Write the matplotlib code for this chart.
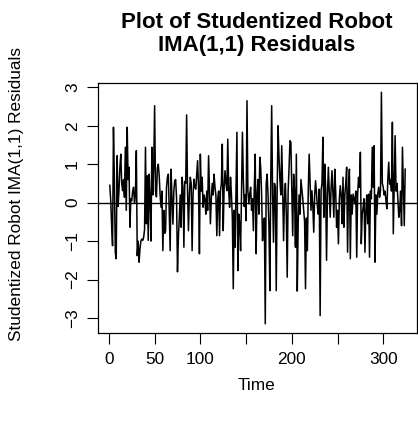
import matplotlib
matplotlib.use("Agg")
import matplotlib.pyplot as plt
import numpy as np

# Studentized residuals of the IMA(1,1) model fitted to the robot series
residuals = [
    0.45, 0.05, -0.6, -1.12, 1.96, 0.6, -1.3, -1.46, 1.22, -0.1,
    0.3, 0.92, 1.26, 0.5, 0.31, 0.6, 0.14, 1.44, -0.2, 1.96,
    0.6, 0.92, -0.64, 0.1, 0.05, 0.3, 0.4, 0.0, 0.2, 1.35,
    -1.38, -1.0, -1.55, -1.2, -1.0, -0.95, -0.98, -0.9, -0.7, 1.44,
    -0.55, 0.7, -0.98, 0.74, 0.1, -1.0, 1.44, 0.2, 0.9, 2.52,
    0.3, 0.15, 0.9, 1.0, 0.7, 0.2, -0.12, 0.3, -1.25, -0.2,
    -0.8, -0.73, 0.4, 0.66, 0.74, -0.3, -1.25, 0.87, 0.1, -0.56,
    0.3, 0.57, 0.6, 0.1, -1.8, -0.9, -0.4, 0.2, -0.64, 0.66,
    0.4, -1.16, 0.55, 0.5, 2.28, 0.3, -0.73, 0.2, 0.66, 0.5,
    -1.25, 0.2, 0.61, 0.4, 0.35, 0.7, 1.09, 0.4, -1.33, 1.26,
    0.3, 0.66, -0.12, 0.2, 0.1, -0.3, 0.3, -0.2, 1.22, 0.3,
    -0.55, 0.1, 0.5, 0.2, 0.74, 0.4, 0.2, -0.86, 0.1, 0.3,
    -0.86, 0.3, 0.5, 1.52, -0.73, 0.4, 0.83, 0.5, 0.31, 1.65,
    0.3, -0.12, 0.66, 0.2, -0.4, -2.24, -0.2, -1.16, 0.4, 1.83,
    -1.77, -0.3, -0.55, -1.25, 0.2, 1.83, 0.6, -0.1, 0.2, -0.47,
    2.65, 0.3, -0.03, 0.22, 0.4, -0.2, 0.1, -0.73, 0.4, 1.26,
    -1.33, 0.2, 0.6, -0.3, 1.18, 0.92, 0.2, -0.99, -0.5, -0.4,
    -3.15, 0.48, 0.74, 0.2, -0.6, -2.29, 0.6, 2.52, 0.2, -1.03,
    0.5, 0.4, -2.29, 0.3, 2.0, 1.2, 0.6, 0.2, 1.48, 0.4,
    -0.99, 0.1, 0.5, -0.3, -1.94, 0.3, 0.9, 1.61, 1.57, 0.3,
    -0.86, 0.74, 0.3, -1.16, 1.26, -2.3, -0.5, 0.2, -0.3, 0.6,
    0.35, 0.1, -0.2, -0.5, -2.24, -0.4, -1.25, 0.3, 1.26, 0.5,
    -0.2, 0.31, -0.1, -0.77, 0.2, 0.57, 0.22, -0.1, -0.3, 0.35,
    -2.94, 0.31, 0.5, 1.7, -0.38, 1.0, 0.4, -1.5, 0.2, 0.92,
    0.3, -0.38, 0.4, 0.83, 0.2, -0.38, 0.87, 0.3, -0.64, -0.2,
    -1.07, 0.1, 0.44, 0.2, -0.55, 0.66, -0.64, 0.2, 0.5, 0.92,
    -1.29, 0.3, 0.87, -1.46, 0.2, -0.3, 0.22, 0.1, -0.03, 0.3,
    -1.42, 0.2, 0.66, 0.4, 1.31, -1.07, -0.3, -0.12, 0.1, -1.29,
    -0.2, 0.2, -0.55, 0.22, -1.42, 0.3, 0.1, 1.44, 0.4, 1.48,
    -1.55, 0.2, -0.3, 0.22, 0.4, 0.14, 0.3, 2.87, 0.5, 0.4,
    0.2, 0.3, 0.05, -0.16, 0.6, 1.05, 0.48, 0.6, 0.3, 2.09,
    -0.81, 0.4, 1.74, 0.3, 0.5, 0.1, -0.38, -0.2, 0.3, -0.6,
    1.44, 0.4, -0.6, 0.87,
]
time = np.arange(1, len(residuals) + 1)

x_ticks = [0, 50, 100, 150, 200, 250, 300]
x_tick_labels = ["0", "50", "100", "", "200", "", "300"]
y_ticks = [-3, -2, -1, 0, 1, 2, 3]
y_tick_labels = ["\u22123", "\u22122", "\u22121", "0", "1", "2", "3"]

plt.rcParams["font.family"] = ["Liberation Sans", "DejaVu Sans"]
BASE = 12.4
TITLE = 16.0

W, H = 418, 424
fig = plt.figure(figsize=(W / 100, H / 100), dpi=100)
left, right, top, bottom = 98, 417, 83, 333
ax = fig.add_axes([left / W, 1 - bottom / H, (right - left) / W, (bottom - top) / H])

ax.plot(time, residuals, color="black", linewidth=1.1)
ax.axhline(0, color="black", linewidth=1.0)

# R-style 4% padding around the data range
def padded(lo, hi):
    r = hi - lo
    return lo - 0.04 * r, hi + 0.04 * r

ax.set_xlim(*padded(time.min(), time.max()))
ax.set_ylim(*padded(min(residuals), max(residuals)))

ax.set_xticks(x_ticks)
ax.set_xticklabels(x_tick_labels, fontsize=BASE)
ax.set_yticks(y_ticks)
ax.set_yticklabels(y_tick_labels, fontsize=BASE, rotation=90, va="center")
ax.tick_params(direction="out", length=8, width=0.8, colors="black")
ax.tick_params(axis="x", pad=6)
ax.tick_params(axis="y", pad=5)
for s in ax.spines.values():
    s.set_linewidth(0.9)

fig.text(257 / W, 1 - 22 / H, "Plot of Studentized Robot", ha="center", va="center",
         fontsize=TITLE, fontweight="bold")
fig.text(257 / W, 1 - 46 / H, "IMA(1,1) Residuals", ha="center", va="center",
         fontsize=TITLE, fontweight="bold")
fig.text(257 / W, 1 - 386 / H, "Time", ha="center", va="center", fontsize=BASE)
fig.text(17 / W, 1 - 194 / H, "Studentized Robot IMA(1,1) Residuals", ha="center",
         va="center", rotation=90, fontsize=BASE)

fig.savefig("out.png", dpi=100)
